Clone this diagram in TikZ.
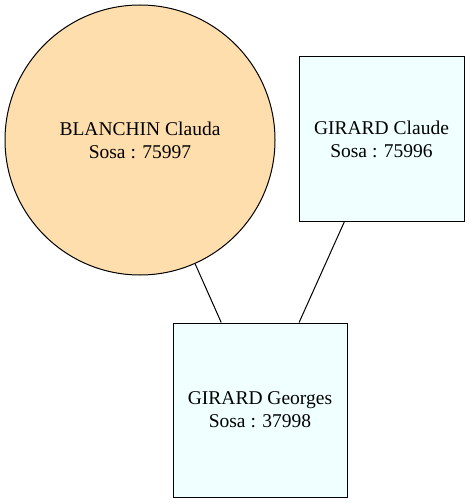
\documentclass[tikz,border=0pt]{standalone}
\usepackage{fontspec}
\setmainfont{Liberation Serif}
\definecolor{moccasin}{HTML}{FFDEAD}
\definecolor{azure}{HTML}{F0FFFF}
\begin{document}
\begin{tikzpicture}[x=1pt,y=-1pt,
  person/.style={draw=black, line width=1pt, inner sep=0pt, align=center,
    font=\fontsize{19.5}{23}\selectfont},
  femme/.style={person, circle, fill=moccasin, minimum size=270pt},
  homme/.style={person, rectangle, fill=azure},
  link/.style={draw=black, line width=1pt}]
\useasboundingbox (0,0) rectangle (469,503);
\node[femme] (mere) at (140,140) {BLANCHIN Clauda\\Sosa : 75997};
\node[homme, minimum width=165pt, minimum height=164pt] (pere) at (381.5,139) {GIRARD Claude\\Sosa : 75996};
\node[homme, minimum width=174pt, minimum height=174pt] (enfant) at (260,410) {GIRARD Georges\\Sosa : 37998};
\draw[link] (mere) -- (enfant);
\draw[link] (pere) -- (enfant);
\end{tikzpicture}
\end{document}
